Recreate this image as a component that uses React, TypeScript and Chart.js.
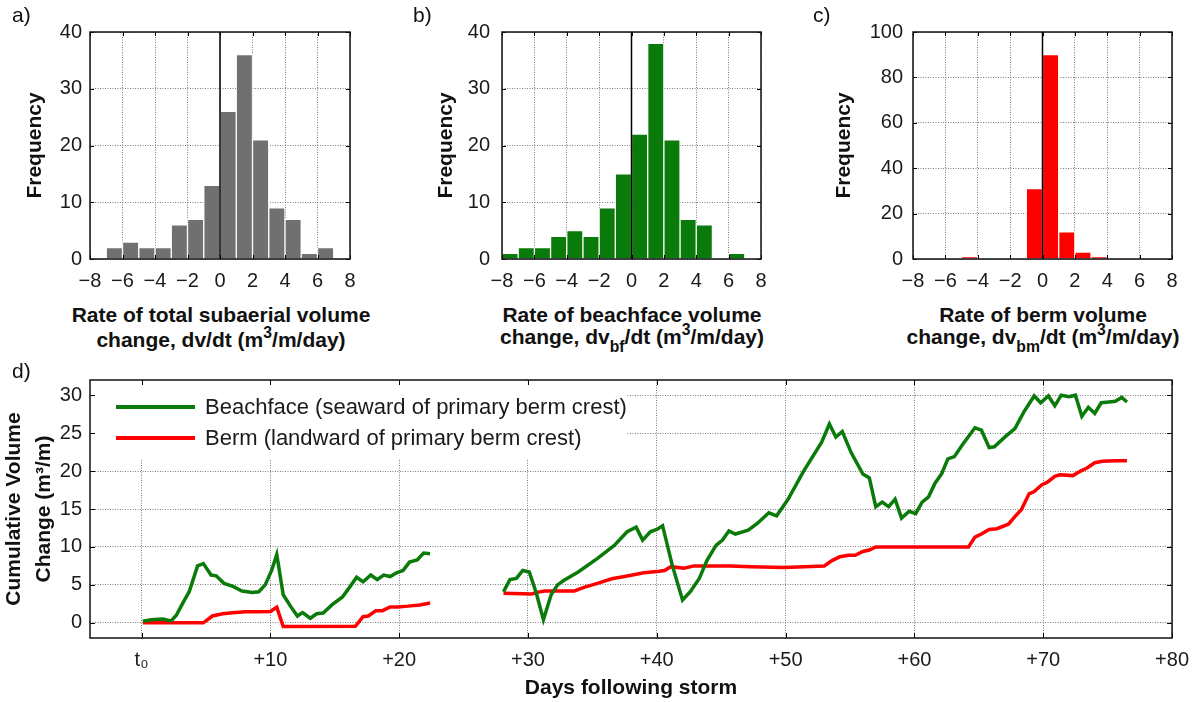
import React, { useEffect, useRef } from "react";
import { Chart, registerables } from "chart.js";

Chart.register(...registerables);

// ---------------- data ----------------
const binCenters = [-7.5, -6.5, -5.5, -4.5, -3.5, -2.5, -1.5, -0.5, 0.5, 1.5, 2.5, 3.5, 4.5, 5.5, 6.5];
const totalRateCounts = [0, 2, 3, 2, 2, 6, 7, 13, 26, 36, 21, 9, 7, 1, 2];
const beachfaceRateCounts = [1, 2, 2, 4, 5, 4, 9, 15, 22, 38, 21, 7, 6, 0, 1];
const bermRateCounts = [0, 0, 0, 1, 0, 0, 0, 31, 90, 12, 3, 1, 0, 0, 0];
const rateTicks = [-8, -6, -4, -2, 0, 2, 4, 6, 8];
const freqTicks40 = [0, 10, 20, 30, 40];
const freqTicks100 = [0, 20, 40, 60, 80, 100];

const beachfaceDays = [
  0.1, 0.75, 1.65, 2.3, 2.7, 3.2, 3.7, 4.35, 4.8, 5.4,
  5.8, 6.4, 7.1, 7.8, 8.6, 9.1, 9.6, 10.1, 10.5, 11.0,
  11.6, 12.1, 12.5, 13.1, 13.6, 14.1, 14.8, 15.6, 16.2, 16.7,
  17.2, 17.8, 18.3, 18.8, 19.3, 19.8, 20.3, 20.8, 21.4, 21.9,
  22.4,
  25.2,
  28.1, 28.6, 29.1, 29.6, 30.1, 30.65, 31.2, 31.8, 32.3, 32.8,
  33.9, 35.4, 36.7, 37.7, 38.4, 38.9, 39.5, 40.0, 40.45, 41.2,
  42.0, 42.6, 43.3, 43.9, 44.6, 45.1, 45.6, 46.1, 47.1, 47.8,
  48.7, 49.3, 50.2, 51.4, 52.8, 53.4, 53.9, 54.4, 55.1, 56.0,
  56.5, 57.0, 57.5, 58.0, 58.5, 59.0, 59.6, 60.1, 60.6, 61.1,
  61.6, 62.1, 62.6, 63.1, 63.7, 64.7, 65.2, 65.8, 66.2, 67.1,
  67.8, 68.5, 69.3, 69.8, 70.4, 70.9, 71.4, 72.0, 72.5, 73.0,
  73.5, 74.0, 74.5, 75.1, 75.6, 76.1, 76.5,
];
const beachfaceVolume = [
  0.2, 0.4, 0.5, 0.26, 1.0, 2.6, 4.1, 7.5, 7.8, 6.3,
  6.2, 5.2, 4.8, 4.2, 4.0, 4.1, 5.0, 6.9, 9.0, 3.7,
  2.1, 0.9, 1.35, 0.6, 1.2, 1.3, 2.4, 3.4, 4.8, 6.0,
  5.4, 6.3, 5.7, 6.3, 6.1, 6.6, 6.9, 8.0, 8.3, 9.2,
  9.1,
  null,
  4.1, 5.7, 5.85, 6.9, 6.7, 3.9, 0.4, 3.7, 5.0, 5.6,
  6.7, 8.5, 10.2, 12.0, 12.6, 10.9, 12.0, 12.3, 12.8, 7.6,
  3.0, 4.1, 5.85, 8.25, 10.2, 10.9, 12.1, 11.7, 12.2, 13.1,
  14.5, 14.1, 16.3, 20.0, 23.8, 26.2, 24.5, 25.2, 22.4, 19.6,
  19.1, 15.3, 15.9, 15.3, 16.3, 13.8, 14.7, 14.4, 15.9, 16.6,
  18.4, 19.6, 21.6, 21.9, 23.4, 25.7, 25.4, 23.1, 23.2, 24.6,
  25.6, 27.8, 29.9, 29.0, 29.9, 28.6, 30.0, 29.8, 30.0, 27.2,
  28.4, 27.6, 29.0, 29.1, 29.2, 29.7, 29.1,
];
const bermDays = [
  0.1, 4.8, 5.5, 6.3, 7.3, 8.1, 9.1, 10.0, 10.5, 11.0,
  11.7, 16.6, 17.2, 17.6, 18.2, 18.7, 19.3, 19.9, 20.7, 21.6,
  22.4,
  25.2,
  28.1, 30.3, 30.8, 31.3, 33.6, 34.4, 35.4, 36.5, 37.5, 39.0,
  40.2, 40.6, 41.1, 42.1, 42.9, 45.7, 47.3, 49.9, 53.0, 53.6,
  54.2, 54.9, 55.4, 56.0, 56.5, 57.0, 59.1, 62.7, 64.2, 64.7,
  65.2, 65.8, 66.4, 67.3, 67.8, 68.3, 68.9, 69.3, 69.9, 70.3,
  70.9, 71.3, 72.3, 72.9, 73.4, 74.0, 74.6, 75.6, 76.5,
];
const bermVolume = [
  0, 0, 0.9, 1.2, 1.35, 1.45, 1.45, 1.5, 2.05, -0.5,
  -0.5, -0.45, 0.8, 0.9, 1.6, 1.6, 2.1, 2.1, 2.2, 2.35,
  2.6,
  null,
  3.9, 3.8, 4.05, 4.2, 4.2, 4.7, 5.2, 5.8, 6.1, 6.6,
  6.8, 6.9, 7.4, 7.2, 7.5, 7.5, 7.4, 7.3, 7.5, 8.2,
  8.7, 8.9, 8.9, 9.4, 9.6, 10.0, 10.0, 10.0, 10.0, 11.3,
  11.7, 12.3, 12.4, 13.0, 14.0, 14.9, 17.0, 17.3, 18.2, 18.5,
  19.3, 19.5, 19.4, 20.0, 20.4, 21.1, 21.3, 21.35, 21.35,
];
const dayTicks = [0, 10, 20, 30, 40, 50, 60, 70, 80];
const volumeTicks = [0, 5, 10, 15, 20, 25, 30];
const seriesLabels = ["Beachface (seaward of primary berm crest)", "Berm (landward of primary berm crest)"];

// ---------------- styling ----------------
const FONT = "'Liberation Sans', Arial, Helvetica, sans-serif";
const GREEN = "#0a7a0a";
const RED = "#ff0000";
const GREY = "#707070";
const GRID = "#7a7a7a";
const GRID_DASH = [1, 1.5];
const TICK_COLOR = "#1a1a1a";

const fmtSigned = (v: number) => (v < 0 ? "\u2212" + Math.abs(v) : String(v));

const framePlugin = {
  id: "frame",
  afterDraw(chart: any, _args: any, opts: any) {
    const { ctx, chartArea: a, scales } = chart;
    const tl = opts.tickLen ?? 4;
    ctx.save();
    ctx.strokeStyle = "#000";
    ctx.lineWidth = 1;
    ctx.setLineDash([]);
    ctx.beginPath();
    for (const t of scales.x.ticks) {
      const px = Math.round(scales.x.getPixelForValue(t.value)) + 0.5;
      ctx.moveTo(px, a.bottom);
      ctx.lineTo(px, a.bottom - tl);
      ctx.moveTo(px, a.top);
      ctx.lineTo(px, a.top + tl);
    }
    for (const t of scales.y.ticks) {
      const py = Math.round(scales.y.getPixelForValue(t.value)) + 0.5;
      ctx.moveTo(a.left, py);
      ctx.lineTo(a.left + tl, py);
      ctx.moveTo(a.right, py);
      ctx.lineTo(a.right - tl, py);
    }
    ctx.stroke();
    ctx.lineWidth = 1.5;
    ctx.strokeStyle = "#111";
    ctx.strokeRect(a.left, a.top, a.right - a.left, a.bottom - a.top);
    ctx.restore();
  },
};

const insetLegendPlugin = {
  id: "insetLegend",
  beforeDatasetsDraw(chart: any, _args: any, opts: any) {
    const { ctx, chartArea: a } = chart;
    ctx.save();
    ctx.fillStyle = "#fff";
    ctx.fillRect(a.left + 1, a.top + 1, opts.boxWidth, opts.boxHeight);
    ctx.restore();
  },
  afterDatasetsDraw(chart: any, _args: any, opts: any) {
    const { ctx, chartArea: a } = chart;
    ctx.save();
    chart.data.datasets.forEach((ds: any, i: number) => {
      const y = a.top + opts.firstRowY + i * opts.rowGap;
      ctx.strokeStyle = ds.borderColor;
      ctx.lineWidth = 4;
      ctx.beginPath();
      ctx.moveTo(a.left + opts.lineStart, y);
      ctx.lineTo(a.left + opts.lineEnd, y);
      ctx.stroke();
      ctx.fillStyle = "#1a1a1a";
      ctx.font = `${opts.fontSize}px ${FONT}`;
      ctx.textBaseline = "middle";
      ctx.textAlign = "left";
      ctx.fillText(ds.label, a.left + opts.textStart, y + 1);
    });
    ctx.restore();
  },
};

type HistSpec = {
  counts: number[];
  color: string;
  yMax: number;
  yTicks: number[];
  yAxisWidth: number;
  yTickPad: number;
  yTitlePad: number;
  padRight: number;
  label: string;
};

function histConfig(s: HistSpec): any {
  return {
    type: "bar",
    data: {
      datasets: [
        {
          type: "line",
          label: "zero",
          data: [
            { x: 0, y: 0 },
            { x: 0, y: s.yMax },
          ],
          borderColor: "#000",
          borderWidth: 1.5,
          pointRadius: 0,
          order: 0,
        },
        {
          type: "bar",
          label: s.label,
          data: binCenters.map((c, i) => ({ x: c, y: s.counts[i] })),
          backgroundColor: s.color,
          borderColor: "#ffffff",
          borderWidth: 1,
          borderSkipped: "start",
          barPercentage: 1,
          categoryPercentage: 1,
          order: 1,
        },
      ],
    },
    options: {
      responsive: false,
      animation: false,
      layout: { padding: { left: 0, top: 32, right: s.padRight, bottom: 0 } },
      plugins: { legend: { display: false }, tooltip: { enabled: false }, frame: { tickLen: 4 } },
      scales: {
        x: {
          type: "linear",
          min: -8,
          max: 8,
          offset: false,
          afterBuildTicks: (sc: any) => {
            sc.ticks = rateTicks.map((v) => ({ value: v }));
          },
          afterFit: (sc: any) => {
            sc.height = 41;
          },
          grid: { offset: false, drawTicks: false, color: GRID, lineWidth: 1 },
          border: { display: false, dash: GRID_DASH },
          ticks: {
            padding: 10,
            color: TICK_COLOR,
            font: { family: FONT, size: 20 },
            maxRotation: 0,
            autoSkip: false,
            callback: (v: number) => fmtSigned(v),
          },
        },
        y: {
          type: "linear",
          min: 0,
          max: s.yMax,
          afterBuildTicks: (sc: any) => {
            sc.ticks = s.yTicks.map((v) => ({ value: v }));
          },
          afterFit: (sc: any) => {
            sc.width = s.yAxisWidth;
          },
          grid: { drawTicks: false, color: GRID, lineWidth: 1 },
          border: { display: false, dash: GRID_DASH },
          ticks: {
            padding: s.yTickPad,
            color: TICK_COLOR,
            font: { family: FONT, size: 20 },
            autoSkip: false,
          },
          title: {
            display: true,
            text: "Frequency",
            color: "#111",
            font: { family: FONT, size: 21, weight: "bold" },
            padding: { top: s.yTitlePad, bottom: 0 },
          },
        },
      },
    },
    plugins: [framePlugin],
  };
}

function volumeConfig(): any {
  const toPoints = (days: number[], vals: (number | null)[]) => days.map((d, i) => ({ x: d, y: vals[i] }));
  return {
    type: "line",
    data: {
      datasets: [
        {
          label: seriesLabels[0],
          data: toPoints(beachfaceDays, beachfaceVolume),
          borderColor: GREEN,
          borderWidth: 3.5,
          pointRadius: 0,
          spanGaps: false,
          tension: 0,
        },
        {
          label: seriesLabels[1],
          data: toPoints(bermDays, bermVolume),
          borderColor: RED,
          borderWidth: 3.5,
          pointRadius: 0,
          spanGaps: false,
          tension: 0,
        },
      ],
    },
    options: {
      responsive: false,
      animation: false,
      layout: { padding: { left: 0, top: 18, right: 26, bottom: 0 } },
      plugins: {
        legend: { display: false },
        tooltip: { enabled: false },
        frame: { tickLen: 5 },
        insetLegend: {
          boxWidth: 536,
          boxHeight: 79,
          firstRowY: 27,
          rowGap: 31,
          lineStart: 26,
          lineEnd: 105,
          textStart: 115,
          fontSize: 22,
        },
      },
      scales: {
        x: {
          type: "linear",
          min: -4,
          max: 80,
          afterBuildTicks: (sc: any) => {
            sc.ticks = dayTicks.map((v) => ({ value: v }));
          },
          afterFit: (sc: any) => {
            sc.height = 64;
          },
          grid: { drawTicks: false, color: GRID, lineWidth: 1 },
          border: { display: false, dash: GRID_DASH },
          ticks: {
            padding: 10,
            color: TICK_COLOR,
            font: { family: FONT, size: 20 },
            maxRotation: 0,
            autoSkip: false,
            callback: (v: number) => (v === 0 ? "t\u2080" : "+" + v),
          },
          title: {
            display: true,
            text: "Days following storm",
            color: "#111",
            font: { family: FONT, size: 21, weight: "bold" },
            padding: { top: 0, bottom: 1 },
          },
        },
        y: {
          type: "linear",
          min: -2,
          max: 32,
          afterBuildTicks: (sc: any) => {
            sc.ticks = volumeTicks.map((v) => ({ value: v }));
          },
          afterFit: (sc: any) => {
            sc.width = 90;
          },
          grid: { drawTicks: false, color: GRID, lineWidth: 1 },
          border: { display: false, dash: GRID_DASH },
          ticks: {
            padding: 8,
            color: TICK_COLOR,
            font: { family: FONT, size: 20 },
            autoSkip: false,
          },
          title: {
            display: true,
            text: ["Cumulative Volume", "Change (m\u00b3/m)"],
            color: "#111",
            font: { family: FONT, size: 21, weight: "bold", lineHeight: 1.4 },
            padding: { top: 0, bottom: 0 },
          },
        },
      },
    },
    plugins: [framePlugin, insetLegendPlugin],
  };
}

function ChartCanvas(props: { make: () => any; left: number; top: number; width: number; height: number }) {
  const ref = useRef<HTMLCanvasElement | null>(null);
  useEffect(() => {
    const chart = new Chart(ref.current as HTMLCanvasElement, props.make());
    return () => chart.destroy();
  }, []);
  return (
    <canvas
      ref={ref}
      width={props.width}
      height={props.height}
      style={{ position: "absolute", left: props.left, top: props.top, width: props.width, height: props.height }}
    />
  );
}

const panelLetter = (left: number, top: number): React.CSSProperties => ({
  position: "absolute",
  left,
  top,
  fontFamily: FONT,
  fontSize: 21,
  lineHeight: "24px",
  color: "#111",
});

const xTitle = (center: number, top: number, lh: number): React.CSSProperties => ({
  position: "absolute",
  left: center - 200,
  top,
  width: 400,
  textAlign: "center",
  fontFamily: FONT,
  fontWeight: "bold",
  fontSize: 21,
  lineHeight: lh + "px",
  whiteSpace: "nowrap",
  color: "#111",
});

const supStyle: React.CSSProperties = {
  fontSize: "0.75em",
  position: "relative",
  top: "-0.6em",
  lineHeight: 0,
};
const subStyle: React.CSSProperties = {
  fontSize: "0.75em",
  position: "relative",
  top: "0.5em",
  lineHeight: 0,
};

export default function App() {
  return (
    <div
      style={{
        position: "absolute",
        left: 0,
        top: 0,
        width: 1199,
        height: 702,
        background: "#fff",
        overflow: "hidden",
      }}
    >
      <ChartCanvas
        left={0}
        top={0}
        width={380}
        height={300}
        make={() =>
          histConfig({
            counts: totalRateCounts,
            color: GREY,
            yMax: 40,
            yTicks: freqTicks40,
            yAxisWidth: 90,
            yTickPad: 8,
            yTitlePad: 23,
            padRight: 30,
            label: "Total subaerial",
          })
        }
      />
      <ChartCanvas
        left={400}
        top={0}
        width={390}
        height={300}
        make={() =>
          histConfig({
            counts: beachfaceRateCounts,
            color: GREEN,
            yMax: 40,
            yTicks: freqTicks40,
            yAxisWidth: 102,
            yTickPad: 12,
            yTitlePad: 34,
            padRight: 29,
            label: "Beachface",
          })
        }
      />
      <ChartCanvas
        left={800}
        top={0}
        width={399}
        height={300}
        make={() =>
          histConfig({
            counts: bermRateCounts,
            color: RED,
            yMax: 100,
            yTicks: freqTicks100,
            yAxisWidth: 113,
            yTickPad: 10,
            yTitlePad: 32,
            padRight: 27,
            label: "Berm",
          })
        }
      />
      <ChartCanvas left={0} top={360} width={1199} height={342} make={volumeConfig} />

      <div style={panelLetter(12, 3)}>a)</div>
      <div style={panelLetter(413, 3)}>b)</div>
      <div style={panelLetter(813, 3)}>c)</div>
      <div style={panelLetter(12, 359)}>d)</div>

      <div style={xTitle(221, 302, 25)}>
        <div>Rate of total subaerial volume</div>
        <div>
          change, dv/dt (m<span style={supStyle}>3</span>/m/day)
        </div>
      </div>
      <div style={xTitle(632, 304, 22)}>
        <div>Rate of beachface volume</div>
        <div>
          change, dv<span style={subStyle}>bf</span>/dt (m<span style={supStyle}>3</span>/m/day)
        </div>
      </div>
      <div style={xTitle(1043, 304, 22)}>
        <div>Rate of berm volume</div>
        <div>
          change, dv<span style={subStyle}>bm</span>/dt (m<span style={supStyle}>3</span>/m/day)
        </div>
      </div>
    </div>
  );
}
